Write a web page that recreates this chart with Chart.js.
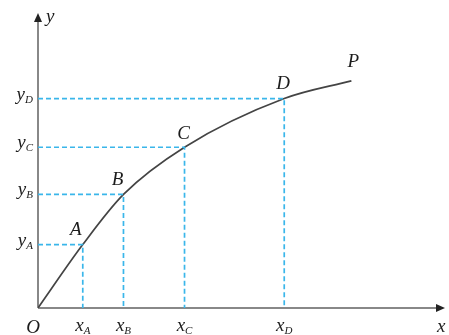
<!DOCTYPE html>
<html>
<head>
<meta charset="utf-8">
<script src="https://cdn.jsdelivr.net/npm/chart.js@4.4.1/dist/chart.umd.min.js"></script>
<style>
  html, body { margin: 0; padding: 0; background: #fff; }
  #wrap { width: 449px; height: 335px; }
</style>
</head>
<body>
<div id="wrap"><canvas id="curveChart" width="449" height="335"></canvas></div>
<script>
// point names along the curve, and their coordinates (axis units 0..10)
var pointNames = ['O', 'A', 'B', 'C', 'D', 'P'];
var curveX = [0, 1.1, 2.1, 3.6, 6.05, 7.7];
var curveY = [0, 2.15, 3.85, 5.45, 7.1, 7.7];
// points that get dashed projections to both axes
var markedNames = ['A', 'B', 'C', 'D'];
var xMax = 10;
var yMax = 10;

var curveData = [];
for (var i = 0; i < curveX.length; i++) {
	curveData.push({x: curveX[i], y: curveY[i]});
}

var datasets = [];
for (var i = 0; i < markedNames.length; i++) {
	var k = pointNames.indexOf(markedNames[i]);
	datasets.push({
		data: [{x: 0, y: curveY[k]}, {x: curveX[k], y: curveY[k]}, {x: curveX[k], y: 0}],
		showLine: true,
		borderColor: '#3ab6ea',
		borderWidth: 1.7,
		borderDash: [5, 3],
		pointRadius: 0,
		tension: 0
	});
}
datasets.push({
	data: curveData,
	showLine: true,
	borderColor: '#444',
	borderWidth: 1.7,
	pointRadius: 0,
	cubicInterpolationMode: 'monotone'
});

var bigFont = 'italic 19px "Liberation Serif", "DejaVu Serif", serif';
var smallFont = 'italic 11px "Liberation Serif", "DejaVu Serif", serif';

function label(ctx, main, sub, x, y, align) {
	ctx.font = bigFont;
	var w1 = ctx.measureText(main).width;
	ctx.font = smallFont;
	var w2 = sub ? ctx.measureText(sub).width : 0;
	var left = x;
	if (align == 'center') left = x - (w1 + w2) / 2;
	if (align == 'right') left = x - (w1 + w2);
	ctx.textAlign = 'left';
	ctx.textBaseline = 'alphabetic';
	ctx.font = bigFont;
	ctx.fillText(main, left, y);
	if (sub) {
		ctx.font = smallFont;
		ctx.fillText(sub, left + w1, y + 3);
	}
}

var axesPlugin = {
	id: 'axesPlugin',
	beforeDatasetsDraw: function(chart) {
		var ctx = chart.ctx;
		var sx = chart.scales.x, sy = chart.scales.y;
		var x0 = sx.getPixelForValue(0), y0 = sy.getPixelForValue(0);
		var xEnd = sx.getPixelForValue(xMax), yEnd = sy.getPixelForValue(yMax);
		ctx.save();
		ctx.strokeStyle = '#888';
		ctx.lineWidth = 2;
		ctx.beginPath();
		ctx.moveTo(x0, y0);
		ctx.lineTo(xEnd - 6, y0);
		ctx.moveTo(x0, y0);
		ctx.lineTo(x0, yEnd + 6);
		ctx.stroke();
		ctx.fillStyle = '#222';
		ctx.beginPath();
		ctx.moveTo(xEnd, y0);
		ctx.lineTo(xEnd - 9, y0 - 4);
		ctx.lineTo(xEnd - 9, y0 + 4);
		ctx.closePath();
		ctx.fill();
		ctx.beginPath();
		ctx.moveTo(x0, yEnd);
		ctx.lineTo(x0 - 4, yEnd + 9);
		ctx.lineTo(x0 + 4, yEnd + 9);
		ctx.closePath();
		ctx.fill();
		ctx.restore();
	},
	afterDatasetsDraw: function(chart) {
		var ctx = chart.ctx;
		var sx = chart.scales.x, sy = chart.scales.y;
		var x0 = sx.getPixelForValue(0), y0 = sy.getPixelForValue(0);
		ctx.save();
		ctx.fillStyle = '#1c1c1c';
		label(ctx, 'y', '', x0 + 8, sy.getPixelForValue(yMax) + 9, 'left');
		label(ctx, 'x', '', sx.getPixelForValue(xMax) - 8, y0 + 24, 'left');
		label(ctx, 'O', '', x0 - 5, y0 + 25, 'center');
		for (var i = 0; i < markedNames.length; i++) {
			var k = pointNames.indexOf(markedNames[i]);
			var px = sx.getPixelForValue(curveX[k]);
			var py = sy.getPixelForValue(curveY[k]);
			label(ctx, 'x', markedNames[i], px, y0 + 23, 'center');
			label(ctx, 'y', markedNames[i], x0 - 5, py + 1, 'right');
		}
		// letters next to the curve points
		var offs = {A: [-7, -10], B: [-6, -9], C: [-1, -8], D: [-1, -10], P: [2, -14]};
		for (var i = 1; i < pointNames.length; i++) {
			var n = pointNames[i];
			var px = sx.getPixelForValue(curveX[i]) + offs[n][0];
			var py = sy.getPixelForValue(curveY[i]) + offs[n][1];
			label(ctx, n, '', px, py, 'center');
		}
		ctx.restore();
	}
};

var ctx = document.getElementById('curveChart');
var curveChart = new Chart(ctx, {
	type: 'scatter',
	data: { datasets: datasets },
	options: {
		responsive: false,
		animation: false,
		layout: { padding: { left: 38, right: 4, top: 13, bottom: 27 } },
		plugins: { legend: { display: false }, tooltip: { enabled: false } },
		scales: {
			x: { type: 'linear', min: 0, max: xMax, display: false },
			y: { type: 'linear', min: 0, max: yMax, display: false }
		}
	},
	plugins: [axesPlugin]
});
</script>
</body>
</html>
